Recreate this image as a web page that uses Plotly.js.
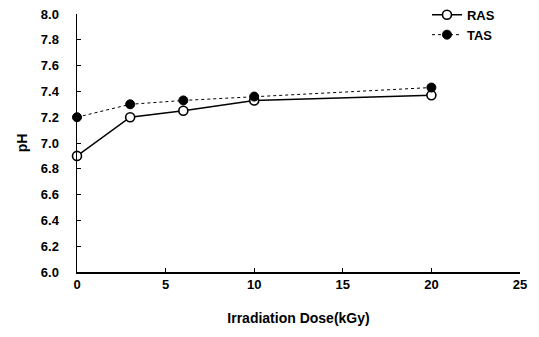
<!DOCTYPE html>
<html>
<head>
<meta charset="utf-8">
<script src="https://cdn.plot.ly/plotly-3.0.1.min.js"></script>
<style>html,body{margin:0;padding:0;background:#fff;}#chart{width:539px;height:337px;}</style>
</head>
<body>
<div id="chart"></div>
<script>
var doseX = [0, 3, 6, 10, 20];
var rasPH = [6.9, 7.2, 7.25, 7.33, 7.37];
var tasPH = [7.2, 7.3, 7.33, 7.36, 7.43];
var xTicks = [0, 5, 10, 15, 20, 25];
var yTicks = [6.0, 6.2, 6.4, 6.6, 6.8, 7.0, 7.2, 7.4, 7.6, 7.8, 8.0];

var fnt = {family: 'Liberation Sans, Arial, sans-serif', size: 13, color: '#000', weight: 'bold'};

var traces = [
  {x: doseX, y: rasPH, name: 'RAS', mode: 'lines+markers', cliponaxis: false,
   line: {color: '#000', width: 1.6},
   marker: {symbol: 'circle', size: 9, color: '#fff', line: {color: '#000', width: 1.6}}},
  {x: doseX, y: tasPH, name: 'TAS', mode: 'lines+markers', cliponaxis: false,
   line: {color: '#000', width: 1, dash: 'dot'},
   marker: {symbol: 'circle', size: 9, color: '#000', line: {color: '#000', width: 1}}}
];

var layout = {
  width: 539, height: 337,
  margin: {l: 77, r: 19, t: 14, b: 65, autoexpand: false},
  paper_bgcolor: '#fff', plot_bgcolor: '#fff',
  font: fnt,
  showlegend: true,
  legend: {x: 0.79, y: 1.055, xanchor: 'left', yanchor: 'top',
           font: {family: fnt.family, size: 13, color: '#000', weight: 'bold'},
           bgcolor: 'rgba(0,0,0,0)', tracegroupgap: 0, itemwidth: 30},
  xaxis: {range: [0, 25], tickvals: xTicks, ticktext: xTicks.map(String),
          showgrid: false, zeroline: false, showline: true, linecolor: '#000', linewidth: 1.5,
          ticks: 'inside', ticklen: 4, tickcolor: '#000',
          tickfont: fnt,
          title: {text: 'Irradiation Dose(kGy)', font: {family: fnt.family, size: 14, color: '#000', weight: 'bold'}, standoff: 22}},
  yaxis: {range: [6, 8], tickvals: yTicks, ticktext: yTicks.map(function(v){return v.toFixed(1);}),
          showgrid: false, zeroline: false, showline: true, linecolor: '#000', linewidth: 1.5,
          ticks: 'inside', ticklen: 4, tickcolor: '#000', ticklabelstandoff: 14,
          tickfont: fnt,
          title: {text: 'pH', font: {family: fnt.family, size: 14, color: '#000', weight: 'bold'}, standoff: 10}}
};

Plotly.newPlot('chart', traces, layout, {displayModeBar: false, staticPlot: true});
</script>
</body>
</html>
